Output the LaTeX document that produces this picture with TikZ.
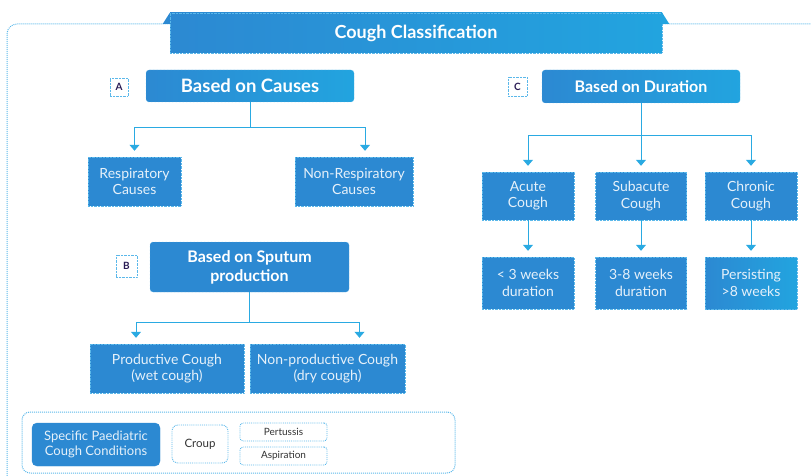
\documentclass[tikz,border=0pt]{standalone}
\usepackage{fontspec}
\setmainfont{Lato}
\usetikzlibrary{arrows.meta}

\definecolor{boxblue}{HTML}{2C89D2}
\definecolor{boxcyan}{HTML}{22A4DF}
\definecolor{linecyan}{HTML}{2AAAE2}
\definecolor{edgeblue}{HTML}{5BB8EA}
\definecolor{letterink}{HTML}{2A1C55}

\tikzset{
  catbox/.style={rectangle, rounded corners=3pt, left color=boxblue, right color=boxcyan,
    draw=edgeblue, densely dotted, text=white, align=center, inner sep=2pt},
  leafbox/.style={rectangle, fill=boxblue, draw=edgeblue, densely dotted,
    text=white!88!boxblue, align=center, inner sep=2pt,
    font=\fontsize{14}{16.5}\selectfont},
  tagbox/.style={rectangle, fill=white, draw=edgeblue, densely dotted, text=letterink,
    font=\fontsize{10}{11}\selectfont\bfseries, minimum width=18pt, minimum height=18pt},
  pillbox/.style={rectangle, fill=white, draw=edgeblue, densely dotted, line width=0.9pt,
    text=black!80, font=\fontsize{10}{11}\selectfont, inner sep=1pt},
  link/.style={draw=linecyan, line width=1pt, -{Triangle[width=10pt,length=6pt]}, shorten >=6pt},
}

\begin{document}
\begin{tikzpicture}
  [x=1pt,y=-1pt]
  \useasboundingbox (0,0) rectangle (811,476);

  % outer frame
  \draw[edgeblue, densely dotted, line width=1pt, rounded corners=10pt]
    (7,476) -- (7,24) -- (811,24);

  % title
  \node[catbox, rounded corners=0pt, minimum width=492pt, minimum height=40pt,
    font=\fontsize{18}{20}\selectfont\bfseries] (title) at (416,33) {Cough Classification};
  \fill[boxblue] (title.north west) -- ++(-7,11) -- ++(7,0) -- cycle;
  \fill[boxcyan] (title.north east) -- ++(7,11) -- ++(-7,0) -- cycle;

  % A: causes
  \node[tagbox] (taga) at (119,87) {A};
  \node[catbox, minimum width=208pt, minimum height=32pt,
    font=\fontsize{18.5}{20}\selectfont\bfseries] (causes) at (250,86) {Based on Causes};
  \node[leafbox, minimum width=93pt, minimum height=49pt] (resp) at (134.5,181.5) {Respiratory\\Causes};
  \node[leafbox, minimum width=118pt, minimum height=49pt] (nonresp) at (354,181.5) {Non-Respiratory\\Causes};

  % B: sputum
  \node[tagbox, minimum width=21pt, minimum height=22pt] (tagb) at (126.5,266) {B};
  \node[catbox, left color=boxblue, right color=boxblue, minimum width=199pt, minimum height=50pt,
    font=\fontsize{16}{19}\selectfont\bfseries] (sputum) at (249.5,267) {Based on Sputum\\production};
  \node[leafbox, minimum width=154pt, minimum height=49pt] (prod) at (167,368.5) {Productive Cough\\(wet cough)};
  \node[leafbox, minimum width=155pt, minimum height=49pt] (nonprod) at (327.5,368.5) {Non-productive Cough\\(dry cough)};

  % C: duration
  \node[tagbox, minimum width=19pt, minimum height=19pt] (tagc) at (517.5,86.5) {C};
  \node[catbox, minimum width=198pt, minimum height=33pt,
    font=\fontsize{16}{19}\selectfont\bfseries] (duration) at (641,86.5) {Based on Duration};
  \node[leafbox, minimum width=92pt, minimum height=48pt] (acute) at (528,196) {Acute\\Cough};
  \node[leafbox, minimum width=91pt, minimum height=48pt] (subacute) at (641,196) {Subacute\\Cough};
  \node[leafbox, minimum width=92pt, minimum height=48pt] (chronic) at (751,196) {Chronic\\Cough};
  \node[leafbox, minimum width=92pt, minimum height=52pt] (lt3) at (528,283) {< 3 weeks\\duration};
  \node[leafbox, minimum width=91pt, minimum height=52pt] (mid) at (641,283) {3-8 weeks\\duration};
  \node[leafbox, minimum width=92pt, minimum height=52pt, left color=boxblue, right color=boxcyan] (persist) at (751,283) {Persisting\\>8 weeks};

  % paediatric conditions
  \node[rectangle, draw=edgeblue, densely dotted, line width=1pt, rounded corners=8pt,
    minimum width=433pt, minimum height=61pt] (group) at (238.5,442.5) {};
  \node[leafbox, rounded corners=5pt, solid, draw=boxblue, minimum width=128pt, minimum height=43pt,
    font=\fontsize{13}{15.5}\selectfont] (paed) at (96,444.5) {Specific Paediatric\\Cough Conditions};
  \node[pillbox, rounded corners=6pt, minimum width=56pt, minimum height=38pt,
    font=\fontsize{11.5}{13}\selectfont] (croup) at (200,444) {Croup};
  \node[pillbox, rounded corners=3pt, minimum width=87pt, minimum height=18pt] (pert) at (283.5,432) {Pertussis};
  \node[pillbox, rounded corners=3pt, minimum width=87pt, minimum height=18pt] (aspi) at (283.5,456) {Aspiration};

  \foreach \from/\to/\drop/\shift in {causes/resp/25/0,causes/nonresp/25/11,sputum/prod/30/-31,
      sputum/nonprod/30/32,duration/acute/32/0,duration/chronic/32/0}
    \draw[link] (\from.south) -- ++(0,\drop) -| ([xshift=\shift pt]\to.north);

  \foreach \from/\to in {duration/subacute,acute/lt3,subacute/mid,chronic/persist}
    \draw[link] (\from) -- (\to);

\end{tikzpicture}
\end{document}
